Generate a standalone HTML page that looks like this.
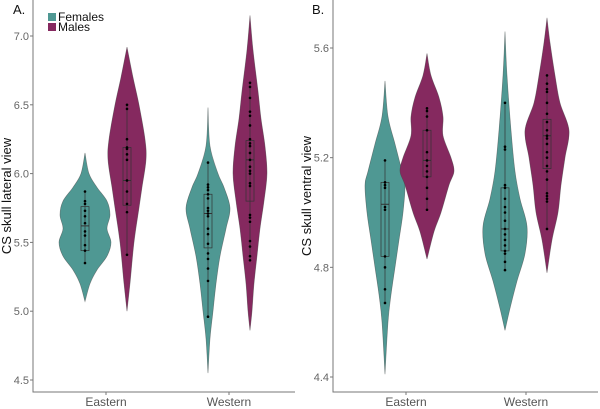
<!DOCTYPE html>
<html><head><meta charset="utf-8"><style>
body{margin:0;background:#fff}
svg{display:block;font-family:"Liberation Sans",sans-serif}
</style></head><body>
<svg id="c" width="600" height="409"></svg>
<script>
// ---- data ----
const groups = ["Eastern","Western"];
const sexes = ["Females","Males"];
const colors = ["#4f9893","#85295f"];
// Panel A: CS skull lateral view
const aTicks = [4.5,5.0,5.5,6.0,6.5,7.0];
const aProfEF = [[6.15,0],[6.0,4],[5.9,12],[5.8,22],[5.7,25],[5.6,22],[5.5,26],[5.4,22],[5.3,12],[5.2,5],[5.07,0]];
const aProfEM = [[6.92,0],[6.7,6],[6.5,12],[6.25,18],[6.1,19],[5.9,15],[5.75,12],[5.5,7],[5.2,3],[5.0,0]];
const aProfWF = [[6.48,0],[6.2,2],[6.0,10],[5.9,16],[5.75,22],[5.6,18],[5.4,12],[5.2,8],[5.0,5],[4.8,2],[4.55,0]];
const aProfWM = [[7.15,0],[6.9,3],[6.6,8],[6.4,11],[6.2,15],[6.0,17],[5.8,14],[5.6,10],[5.4,7],[5.2,4],[5.0,2],[4.86,0]];
const aBoxEF = [5.35,5.44,5.62,5.76,5.87];
const aBoxEM = [5.41,5.77,5.95,6.19,6.5];
const aBoxWF = [4.96,5.46,5.71,5.85,6.08];
const aBoxWM = [5.37,5.8,6.1,6.24,6.66];
const aPtsEF = [5.35,5.44,5.48,5.55,5.58,5.64,5.69,5.73,5.78,5.8,5.87];
const aPtsEM = [5.41,5.72,5.78,5.87,5.95,6.1,6.14,6.18,6.19,6.25,6.47,6.5];
const aPtsWF = [4.96,5.22,5.31,5.38,5.42,5.49,5.56,5.6,5.69,5.71,5.73,5.75,5.82,5.85,5.88,5.9,5.92,6.08];
const aPtsWM = [5.37,5.4,5.47,5.51,5.65,5.68,5.7,5.91,5.93,6.0,6.02,6.05,6.1,6.15,6.2,6.22,6.25,6.35,6.42,6.45,6.55,6.63,6.66];
// Panel B: CS skull ventral view
const bTicks = [4.4,4.8,5.2,5.6];
const bProfEF = [[5.48,0],[5.35,3],[5.25,10],[5.15,17],[5.1,20],[5.0,18],[4.9,14],[4.8,10],[4.7,6],[4.6,3],[4.41,0]];
const bProfEM = [[5.58,0],[5.5,4],[5.42,12],[5.35,16],[5.28,16],[5.2,24],[5.15,27],[5.1,22],[5.0,14],[4.93,7],[4.83,0]];
const bProfWF = [[5.66,0],[5.5,2],[5.3,6],[5.15,10],[5.05,15],[4.95,22],[4.85,20],[4.75,12],[4.65,5],[4.57,0]];
const bProfWM = [[5.71,0],[5.62,3],[5.5,8],[5.4,13],[5.3,22],[5.2,18],[5.1,14],[5.0,11],[4.9,5],[4.78,0]];
const bBoxEF = [4.67,4.84,5.03,5.11,5.19];
const bBoxEM = [5.01,5.13,5.19,5.3,5.38];
const bBoxWF = [4.79,4.86,4.94,5.09,5.4];
const bBoxWM = [4.94,5.16,5.28,5.34,5.5];
const bPtsEF = [4.67,4.72,4.8,4.84,5.01,5.02,5.09,5.1,5.11,5.19];
const bPtsEM = [5.01,5.05,5.09,5.13,5.15,5.17,5.19,5.22,5.3,5.35,5.37,5.38];
const bPtsWF = [4.79,4.82,4.85,4.86,4.88,4.9,4.92,4.94,4.97,5.0,5.02,5.05,5.09,5.1,5.23,5.24,5.4];
const bPtsWM = [4.94,5.04,5.05,5.06,5.07,5.12,5.15,5.17,5.2,5.22,5.25,5.27,5.28,5.3,5.33,5.36,5.4,5.44,5.45,5.47,5.5];

const NS="http://www.w3.org/2000/svg", svg=document.getElementById('c');
function mk(tag,attrs,parent){const e=document.createElementNS(NS,tag);for(const k in attrs)e.setAttribute(k,attrs[k]);(parent||svg).appendChild(e);return e;}
function smooth(pts){let d=`M${pts[0][0]},${pts[0][1]}`;for(let i=0;i<pts.length-1;i++){const p0=pts[Math.max(0,i-1)],p1=pts[i],p2=pts[i+1],p3=pts[Math.min(pts.length-1,i+2)];
d+=` C${p1[0]+(p2[0]-p0[0])/6},${p1[1]+(p2[1]-p0[1])/6} ${p2[0]-(p3[0]-p1[0])/6},${p2[1]-(p3[1]-p1[1])/6} ${p2[0]},${p2[1]}`;}return d;}

function panel(cfg){
  const g=mk('g',{});
  
  
  const y=v=>cfg.y0+(v-cfg.v0)*(cfg.y1-cfg.y0)/(cfg.v1-cfg.v0);
  const ax=mk('path',{d:`M${cfg.left},${cfg.top} V392 H${cfg.right}`,stroke:'#777',fill:'none','stroke-width':1},g);
  
  cfg.ticks.forEach(t=>{
    mk('line',{x1:cfg.left-3,x2:cfg.left,y1:y(t),y2:y(t),stroke:'#777'},g);
    const tx=mk('text',{x:cfg.left-4,y:y(t)+4,'text-anchor':'end','font-size':11,fill:'#666'},g);
    tx.textContent=t.toFixed(1);
    
  });
  groups.forEach((gr,i)=>{
    const cx=cfg.gx[i];
    mk('line',{x1:cx,x2:cx,y1:392,y2:395,stroke:'#777'},g);
    const tx=mk('text',{x:cx,y:406,'text-anchor':'middle','font-size':12,fill:'#555'},g);
    tx.textContent=gr;
    
  });
  const yt=mk('text',{transform:`translate(${cfg.titleX},${(cfg.top+392)/2}) rotate(-90)`,'text-anchor':'middle','font-size':13,fill:'#111'},g);
  yt.textContent=cfg.title;
  const lb=mk('text',{x:cfg.labelX,y:14,'font-size':13,fill:'#111'},g);
  lb.textContent=cfg.label;
  cfg.series.forEach((s,k)=>{
    const cx=cfg.gx[k>>1]+(k%2?21:-21), col=colors[k%2];
    const right=s.prof.map(p=>[cx+p[1],y(p[0])]), left=s.prof.slice().reverse().map(p=>[cx-p[1],y(p[0])]);
    const d=smooth(right)+' '+smooth(left).replace('M','L')+'Z';
    const v=mk('path',{d,fill:col,stroke:'#444','stroke-width':0.6,'stroke-opacity':0.6},g);
    
    
    const b=s.box;
    mk('line',{x1:cx,x2:cx,y1:y(b[0]),y2:y(b[4]),stroke:'#333','stroke-width':0.7},g);
    const r=mk('rect',{x:cx-4,y:y(b[3]),width:8,height:y(b[1])-y(b[3]),fill:'none',stroke:'#333','stroke-width':0.7},g);
    
    mk('line',{x1:cx-4,x2:cx+4,y1:y(b[2]),y2:y(b[2]),stroke:'#333','stroke-width':1},g);
    s.pts.forEach(p=>{
      const c=mk('circle',{cx:cx,cy:y(p),r:1.3,fill:'#000'},g);
      
    });
  });
}
panel({name:'panel-a',label:'A.',labelX:13,title:'CS skull lateral view',titleX:11,left:33,right:295,top:0,
  v0:7.0,y0:36,v1:4.5,y1:380,ticks:aTicks,gx:[106,229],
  series:[{prof:aProfEF,box:aBoxEF,pts:aPtsEF},{prof:aProfEM,box:aBoxEM,pts:aPtsEM},{prof:aProfWF,box:aBoxWF,pts:aPtsWF},{prof:aProfWM,box:aBoxWM,pts:aPtsWM}]});
panel({name:'panel-b',label:'B.',labelX:312,title:'CS skull ventral view',titleX:311,left:333,right:598,top:0,
  v0:5.6,y0:48,v1:4.4,y1:377,ticks:bTicks,gx:[406,526],
  series:[{prof:bProfEF,box:bBoxEF,pts:bPtsEF},{prof:bProfEM,box:bBoxEM,pts:bPtsEM},{prof:bProfWF,box:bBoxWF,pts:bPtsWF},{prof:bProfWM,box:bBoxWM,pts:bPtsWM}]});
sexes.forEach((s,i)=>{
  const r=mk('rect',{x:48,y:13+i*10,width:8,height:8,fill:colors[i]});
  
  const t=mk('text',{x:58,y:21+i*10,'font-size':12,fill:'#111'});
  t.textContent=s;
  
});
</script>
</body></html>
